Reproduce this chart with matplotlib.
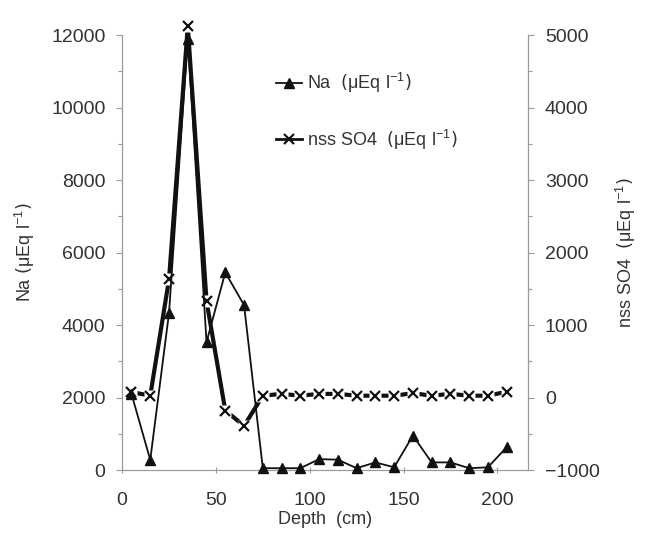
import matplotlib.pyplot as plt
from matplotlib.ticker import MultipleLocator

plt.rcParams['font.family'] = ['Liberation Sans', 'DejaVu Sans']

# profundidades (cm) y concentraciones
depth = [5, 15, 25, 35, 45, 55, 65, 75, 85, 95, 105, 115, 125, 135, 145, 155, 165, 175, 185, 195, 205]
na = [2100, 280, 4330, 11900, 3530, 5450, 4550, 50, 50, 50, 300, 285, 50, 210, 75, 950, 210, 210, 50, 75, 630]
so4 = [75, 25, 1630, 5120, 1330, -180, -390, 25, 50, 25, 50, 50, 25, 25, 25, 60, 25, 50, 25, 25, 80]

gris = '#9a9a9a'
texto = '#333333'

fig = plt.figure(figsize=(6.53, 5.39), dpi=100)
ax = fig.add_axes([0.187, 0.128, 0.622, 0.807])
ax2 = ax.twinx()

# nss SO4: linea gruesa con x y halo blanco
ax2.plot(depth, so4, color='#111111', lw=3.0, zorder=2, clip_on=False)
ax2.plot(depth, so4, ls='none', marker='s', ms=8, mfc='white', mec='none', zorder=3, clip_on=False)
ax2.plot(depth, so4, ls='none', marker='x', ms=7.5, mew=1.6, color='#111111', zorder=4, clip_on=False)

# Na: linea fina con triangulos
ax.plot(depth, na, color='#111111', lw=1.3, marker='^', ms=7, zorder=5, clip_on=False)
ax.set_zorder(ax2.get_zorder() + 1)
ax.patch.set_visible(False)

ax.set_xlim(0, 216.5)
ax.set_ylim(0, 12000)
ax2.set_ylim(-1000, 5000)
ax.xaxis.set_major_locator(MultipleLocator(50))
ax.yaxis.set_major_locator(MultipleLocator(2000))
ax.yaxis.set_minor_locator(MultipleLocator(1000))
ax2.yaxis.set_major_locator(MultipleLocator(1000))
ax2.yaxis.set_minor_locator(MultipleLocator(500))

for a in (ax, ax2):
    a.spines['top'].set_visible(False)
    for s in ('left', 'right', 'bottom'):
        a.spines[s].set_color(gris)
        a.spines[s].set_linewidth(0.8)
    a.tick_params(which='both', colors=gris, labelcolor=texto, labelsize=14, width=0.8)
    a.tick_params(which='major', length=4, pad=8)
    a.tick_params(which='minor', length=3)
ax.tick_params(axis='x', direction='inout', length=5, pad=13)

ax.set_xlabel('Depth  (cm)', fontsize=13, color=texto, labelpad=2)
ax.set_ylabel(r'Na $(\mathregular{\mu Eq\ l^{-1}})$', fontsize=13, color=texto, labelpad=10)
ax2.set_ylabel(r'nss SO4  $(\mathregular{\mu Eq\ l^{-1}})$', fontsize=13, color=texto, labelpad=10)

h1, = ax.plot([], [], color='#111111', lw=1.3, marker='^', ms=7)
h2, = ax.plot([], [], color='#111111', lw=2.0, marker='x', ms=7, mew=1.6)
ax.legend([h1, h2], [r'Na  $(\mathregular{\mu Eq\ l^{-1}})$', r'nss SO4  $(\mathregular{\mu Eq\ l^{-1}})$'],
          loc='upper left', bbox_to_anchor=(0.34, 0.955), frameon=False, fontsize=13,
          handlelength=1.4, handletextpad=0.3, labelspacing=1.8, labelcolor=texto)

fig.savefig('out.png', dpi=100, facecolor='white')
